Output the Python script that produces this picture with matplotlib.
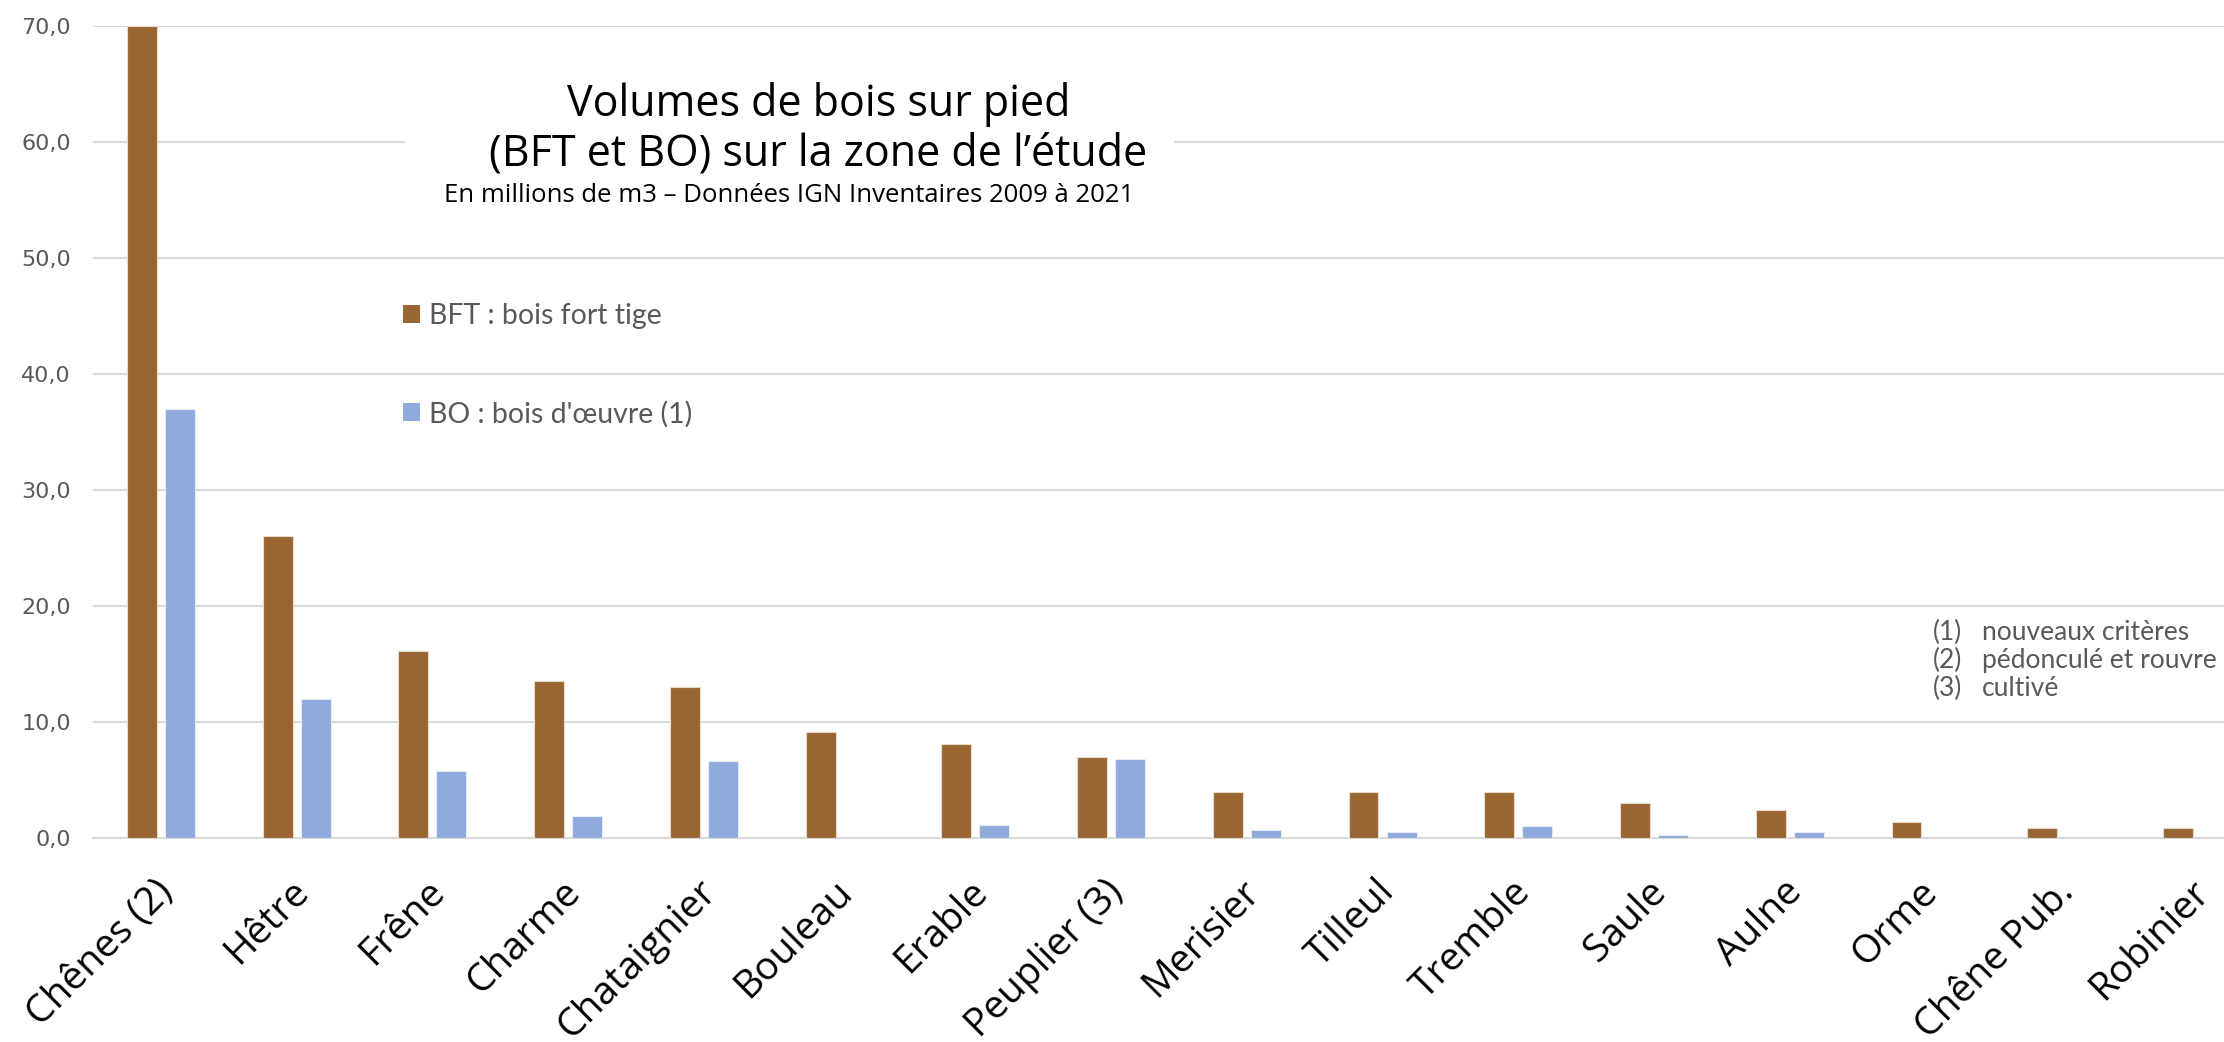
import matplotlib.pyplot as plt
from matplotlib.patches import Patch, Rectangle
import numpy as np

# Volumes sur pied par essence, en millions de m3
essences = [
    "Chênes (2)", "Hêtre", "Frêne", "Charme", "Chataignier", "Bouleau",
    "Erable", "Peuplier (3)", "Merisier", "Tilleul", "Tremble", "Saule",
    "Aulne", "Orme", "Chêne Pub.", "Robinier",
]
bft = [70.0, 26.0, 16.1, 13.5, 13.0, 9.1, 8.1, 7.0, 4.0, 4.0, 4.0, 3.0, 2.4, 1.4, 0.85, 0.85]
bo = [37.0, 12.0, 5.8, 1.9, 6.6, 0.0, 1.1, 6.8, 0.65, 0.5, 1.05, 0.25, 0.5, 0.0, 0.0, 0.0]

yticks = [0, 10, 20, 30, 40, 50, 60, 70]
ytick_labels = ["0,0", "10,0", "20,0", "30,0", "40,0", "50,0", "60,0", "70,0"]

BROWN = "#996633"
BLUE = "#8FAADC"
GREY_TXT = "#595959"
GRID = "#D9D9D9"

fig = plt.figure(figsize=(22.24, 10.42), dpi=100)
ax = fig.add_axes([0.0418, 0.1958, 0.9766, 0.7792])

x = np.arange(len(essences))
ax.bar(x - 0.14, bft, width=0.22, color=BROWN, edgecolor="#E8D9C8", linewidth=0.8, zorder=3)
ax.bar(x + 0.14, bo, width=0.22, color=BLUE, edgecolor="#E4ECF8", linewidth=0.8, zorder=3)

ax.set_xlim(-0.5, len(essences) - 0.5)
ax.set_ylim(0, 70)
ax.set_yticks(yticks)
ax.set_yticklabels(ytick_labels, fontsize=16, color=GREY_TXT, family="DejaVu Sans")
ax.yaxis.grid(True, color=GRID, linewidth=1.5, zorder=0)
ax.tick_params(axis="y", length=0, pad=16)
ax.tick_params(axis="x", length=0, pad=25)
for side in ["top", "right", "left"]:
    ax.spines[side].set_visible(False)
ax.spines["bottom"].set_color(GRID)
ax.spines["bottom"].set_linewidth(1.5)

ax.set_xticks(x - 0.05)
ax.set_xticklabels(essences, rotation=45, ha="right", va="top",
                   rotation_mode="anchor", fontsize=28,
                   family="Open Sans", color="black")

# cartouche blanc du titre, posé sur la grille
fig.patches.append(Rectangle((0.182, 0.79), 0.346, 0.10, transform=fig.transFigure,
                             facecolor="white", edgecolor="none", zorder=2))
fig.text(0.368, 0.9215, "Volumes de bois sur pied\n(BFT et BO) sur la zone de l\u2019étude",
         ha="center", va="top", fontsize=31, family="Open Sans", color="black",
         linespacing=1.15, zorder=3)
fig.text(0.355, 0.812, "En millions de m3 \u2013 Données IGN Inventaires 2009 à 2021",
         ha="center", va="center", fontsize=18.5, family="Open Sans", color="black",
         zorder=3)

handles = [Patch(facecolor=BROWN, edgecolor="none"), Patch(facecolor=BLUE, edgecolor="none")]
fig.legend(handles, ["BFT : bois fort tige", "BO : bois d'\u0153uvre (1)"],
           loc="upper left", bbox_to_anchor=(0.181, 0.709), frameon=False,
           prop={"family": "Lato", "size": 20.5},
           handlelength=0.6, handleheight=0.6, handletextpad=0.32,
           labelspacing=2.5, borderpad=0, borderaxespad=0, labelcolor=GREY_TXT)

notes = ["(1)", "(2)", "(3)"]
note_txt = ["nouveaux critères", "pédonculé et rouvre", "cultivé"]
for i, (n, t) in enumerate(zip(notes, note_txt)):
    yy = 0.393 - i * 0.027
    fig.text(0.8692, yy, n, fontsize=19, family="Lato", color=GREY_TXT, va="center")
    fig.text(0.8912, yy, t, fontsize=19, family="Lato", color=GREY_TXT, va="center")

fig.savefig("out.png", dpi=100)
